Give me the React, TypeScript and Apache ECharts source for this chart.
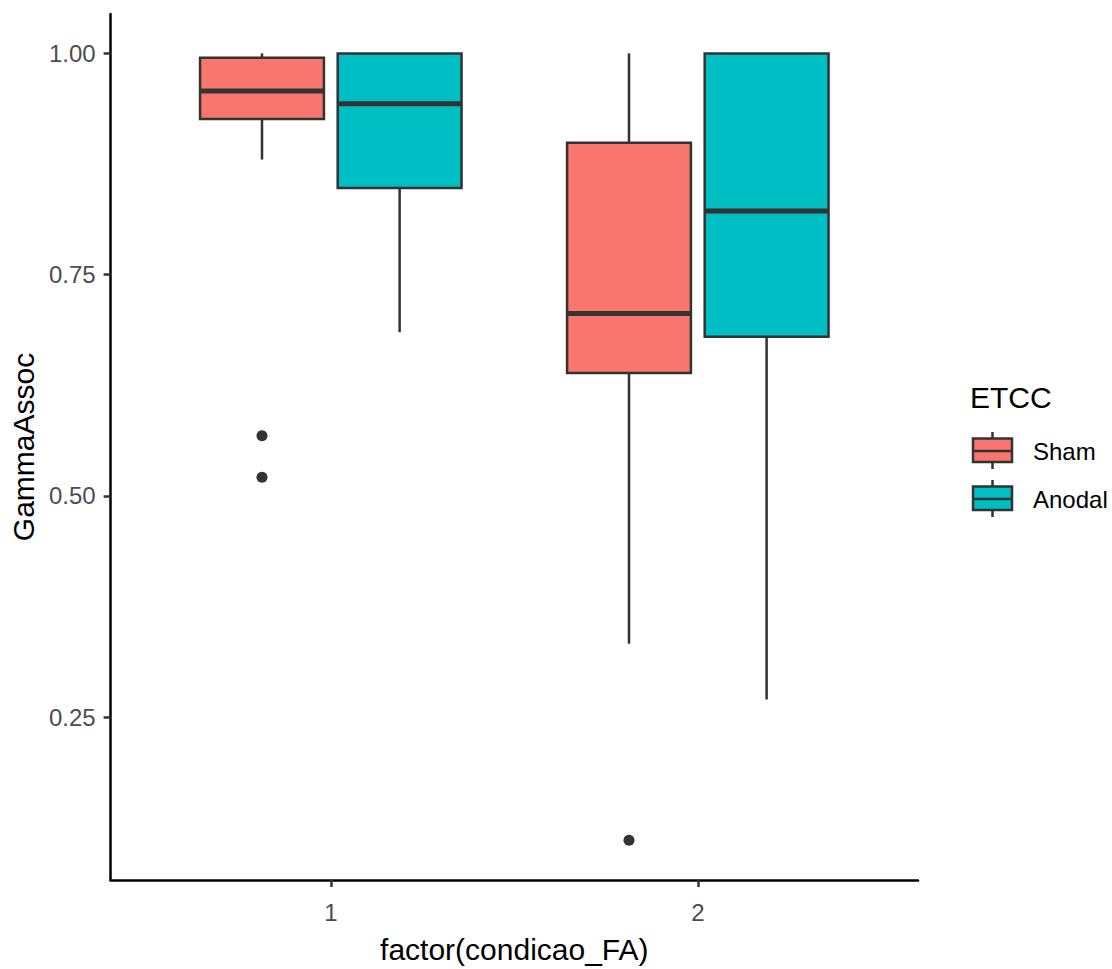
import React, { useEffect, useRef } from "react";
import * as echarts from "echarts";

// ---- data ----
const groups = [1, 2];
const seriesNames = ["Sham", "Anodal"];
// per group: [lowerWhisker, Q1, median, Q3, upperWhisker]
const shamStats = [
  [0.88, 0.926, 0.9575, 0.995, 1.0],
  [0.333, 0.639, 0.706, 0.899, 1.0],
];
const anodalStats = [
  [0.685, 0.848, 0.943, 1.0, 1.0],
  [0.27, 0.68, 0.822, 1.0, 1.0],
];
const shamOutlierGroups = [1, 1, 2];
const shamOutlierValues = [0.568, 0.521, 0.111];
const yTicks = [0.25, 0.5, 0.75, 1.0];
const xTicks = [1, 2];

// ---- style / layout ----
const COLORS = ["#F8766D", "#00BFC4"];
const OUTLINE = "#333333";
const FONT = "'Liberation Sans', Arial, sans-serif";
const DODGE = 0.1875;
const HALF = 0.16875;
const LW = 2.5;

function makeRenderItem(offset: number, color: string) {
  return (_params: any, api: any) => {
    const g = api.value(0) as number;
    const low = api.value(1), q1 = api.value(2), med = api.value(3), q3 = api.value(4), high = api.value(5);
    const xc = g + offset;
    const [cx, yLow] = api.coord([xc, low]);
    const [, yQ1] = api.coord([xc, q1]);
    const [, yMed] = api.coord([xc, med]);
    const [, yQ3] = api.coord([xc, q3]);
    const [, yHigh] = api.coord([xc, high]);
    const [xl] = api.coord([xc - HALF, med]);
    const [xr] = api.coord([xc + HALF, med]);
    return {
      type: "group",
      children: [
        { type: "line", shape: { x1: cx, y1: yQ3, x2: cx, y2: yHigh }, style: { stroke: OUTLINE, lineWidth: LW } },
        { type: "line", shape: { x1: cx, y1: yQ1, x2: cx, y2: yLow }, style: { stroke: OUTLINE, lineWidth: LW } },
        {
          type: "rect",
          shape: { x: xl, y: yQ3, width: xr - xl, height: yQ1 - yQ3 },
          style: { fill: color, stroke: OUTLINE, lineWidth: LW },
        },
        { type: "line", shape: { x1: xl, y1: yMed, x2: xr, y2: yMed }, style: { stroke: OUTLINE, lineWidth: 5 } },
      ],
    };
  };
}

function legendKey(yTop: number, color: string) {
  const cx = 992.5;
  const x0 = 973, w = 39;
  return [
    { type: "line", shape: { x1: cx, y1: yTop, x2: cx, y2: yTop + 37 }, style: { stroke: OUTLINE, lineWidth: LW } },
    { type: "rect", shape: { x: x0, y: yTop + 6.5, width: w, height: 23.5 }, style: { fill: color, stroke: OUTLINE, lineWidth: LW } },
    { type: "line", shape: { x1: x0, y1: yTop + 19, x2: x0 + w, y2: yTop + 19 }, style: { stroke: OUTLINE, lineWidth: LW } },
  ];
}

export default function App() {
  const ref = useRef<HTMLDivElement>(null);
  useEffect(() => {
    if (!ref.current) return;
    const chart = echarts.init(ref.current, undefined, { renderer: "svg" });
    const shamData = groups.map((g, i) => [g, ...shamStats[i]]);
    const anodalData = groups.map((g, i) => [g, ...anodalStats[i]]);
    const outliers = shamOutlierGroups.map((g, i) => [g - DODGE, shamOutlierValues[i]]);
    chart.setOption({
      animation: false,
      backgroundColor: "#ffffff",
      grid: { left: 108, right: 194, top: 14, bottom: 79, containLabel: false },
      xAxis: {
        type: "value",
        min: 0.4,
        max: 2.6,
        name: "factor(condicao_FA)",
        nameLocation: "middle",
        nameGap: 54,
        nameTextStyle: { color: "#000", fontSize: 30, fontFamily: FONT },
        axisLine: { show: true, onZero: false, lineStyle: { color: "#000", width: 2.5 } },
        axisTick: { show: true, customValues: xTicks, length: 7, lineStyle: { color: OUTLINE, width: 2.5 } },
        axisLabel: {
          customValues: xTicks,
          formatter: (v: number) => String(v),
          color: "#4D4D4D",
          fontSize: 24,
          fontFamily: FONT,
          margin: 20,
        },
        splitLine: { show: false },
      },
      yAxis: {
        type: "value",
        min: 0.0661,
        max: 1.0445,
        name: "GammaAssoc",
        nameLocation: "middle",
        nameGap: 70,
        nameRotate: 90,
        nameTextStyle: { color: "#000", fontSize: 30, fontFamily: FONT },
        axisLine: { show: true, onZero: false, lineStyle: { color: "#000", width: 2.5 } },
        axisTick: { show: true, customValues: yTicks, length: 7, lineStyle: { color: OUTLINE, width: 2.5 } },
        axisLabel: {
          customValues: yTicks,
          formatter: (v: number) => v.toFixed(2),
          color: "#4D4D4D",
          fontSize: 24,
          fontFamily: FONT,
          margin: 15,
        },
        splitLine: { show: false },
      },
      series: [
        {
          name: seriesNames[0],
          type: "custom",
          renderItem: makeRenderItem(-DODGE, COLORS[0]),
          encode: { x: 0, y: [1, 2, 3, 4, 5] },
          data: shamData,
          z: 2,
        },
        {
          name: seriesNames[1],
          type: "custom",
          renderItem: makeRenderItem(DODGE, COLORS[1]),
          encode: { x: 0, y: [1, 2, 3, 4, 5] },
          data: anodalData,
          z: 2,
        },
        {
          name: "outliers",
          type: "scatter",
          symbol: "circle",
          symbolSize: 11,
          itemStyle: { color: OUTLINE, opacity: 1 },
          data: outliers,
          z: 3,
        },
      ],
      graphic: [
        {
          type: "text",
          left: 970,
          top: 382,
          style: { text: "ETCC", fontSize: 30, fontFamily: FONT, fill: "#000" },
        },
        ...legendKey(432, COLORS[0]),
        ...legendKey(480, COLORS[1]),
        {
          type: "text",
          x: 1033,
          y: 451,
          style: { text: seriesNames[0], fontSize: 24, fontFamily: FONT, fill: "#000", verticalAlign: "middle" },
        },
        {
          type: "text",
          x: 1033,
          y: 499,
          style: { text: seriesNames[1], fontSize: 24, fontFamily: FONT, fill: "#000", verticalAlign: "middle" },
        },
      ],
    });
    return () => chart.dispose();
  }, []);
  return <div ref={ref} style={{ position: "fixed", left: 0, top: 0, width: 1112, height: 969 }} />;
}
